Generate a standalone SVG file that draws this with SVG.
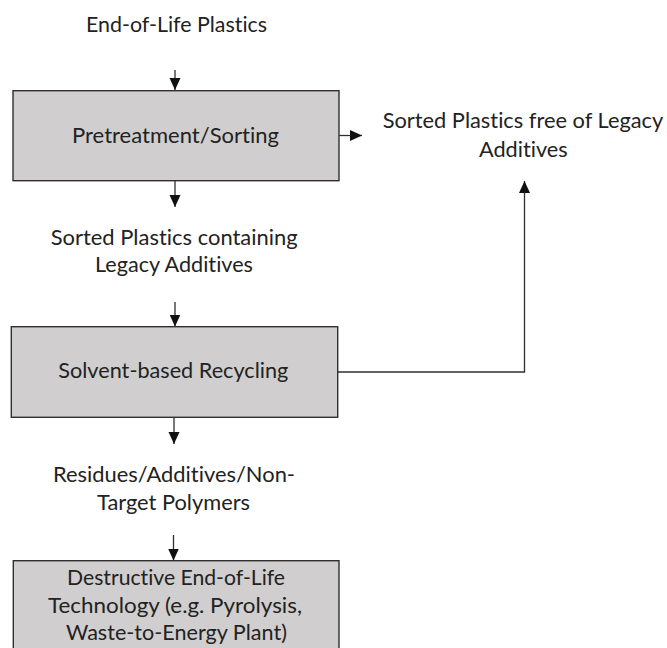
<svg xmlns="http://www.w3.org/2000/svg" width="667" height="648" viewBox="0 0 667 648">
<defs>
<style>
.node{fill:#d0cece;stroke:#2f2f2f;stroke-width:1.4}
text{font-family:Lato,"Liberation Sans",sans-serif;font-size:22px;fill:#222222;text-anchor:middle;font-variant-ligatures:none}
.c{fill:none;stroke:#2f2f2f;stroke-width:1.3}
</style>
<marker id="ah" viewBox="0 0 12 12" refX="12" refY="6" markerWidth="12" markerHeight="12" markerUnits="userSpaceOnUse" orient="auto">
<path d="M0,0.5 L12,6 L0,11.5 Z" fill="#111111"/>
</marker>
</defs>
<rect width="667" height="648" fill="#ffffff"/>
<g id="connectors">
<line class="c" x1="175" y1="70" x2="175" y2="90" marker-end="url(#ah)"/>
<line class="c" x1="339" y1="135.5" x2="362" y2="135.5" marker-end="url(#ah)"/>
<line class="c" x1="175" y1="181" x2="175" y2="207" marker-end="url(#ah)"/>
<line class="c" x1="175" y1="302" x2="175" y2="326.5" marker-end="url(#ah)"/>
<polyline class="c" points="338,372 524.5,372 524.5,181" marker-end="url(#ah)"/>
<line class="c" x1="174" y1="417.5" x2="174" y2="444" marker-end="url(#ah)"/>
<line class="c" x1="173.5" y1="535" x2="173.5" y2="560.5" marker-end="url(#ah)"/>
</g>
<g id="input">
<text x="176.5" y="32" textLength="181" lengthAdjust="spacingAndGlyphs">End-of-Life Plastics</text>
</g>
<g id="pretreatment">
<rect class="node" x="13" y="90.7" width="326" height="90"/>
<text x="175.5" y="143" textLength="207" lengthAdjust="spacingAndGlyphs">Pretreatment/Sorting</text>
</g>
<g id="free-plastics">
<text x="523" y="128" textLength="280.6" lengthAdjust="spacingAndGlyphs">Sorted Plastics free of Legacy</text>
<text x="523.3" y="156.7" textLength="88.7" lengthAdjust="spacingAndGlyphs">Additives</text>
</g>
<g id="containing-plastics">
<text x="174.2" y="245" textLength="247" lengthAdjust="spacingAndGlyphs">Sorted Plastics containing</text>
<text x="174" y="271.5" textLength="158" lengthAdjust="spacingAndGlyphs">Legacy Additives</text>
</g>
<g id="solvent">
<rect class="node" x="11.3" y="326.7" width="326.4" height="90.6"/>
<text x="173.3" y="378.3" textLength="230" lengthAdjust="spacingAndGlyphs">Solvent-based Recycling</text>
</g>
<g id="residues">
<text x="174" y="481.5" textLength="242" lengthAdjust="spacingAndGlyphs">Residues/Additives/Non-</text>
<text x="173.5" y="509.5" textLength="153" lengthAdjust="spacingAndGlyphs">Target Polymers</text>
</g>
<g id="destructive">
<rect class="node" x="13.3" y="560.7" width="325.7" height="100"/>
<text x="176" y="585" textLength="218" lengthAdjust="spacingAndGlyphs">Destructive End-of-Life</text>
<text x="175" y="612.7" textLength="254" lengthAdjust="spacingAndGlyphs">Technology (e.g. Pyrolysis,</text>
<text x="176.5" y="640" textLength="221" lengthAdjust="spacingAndGlyphs">Waste-to-Energy Plant)</text>
</g>
</svg>
